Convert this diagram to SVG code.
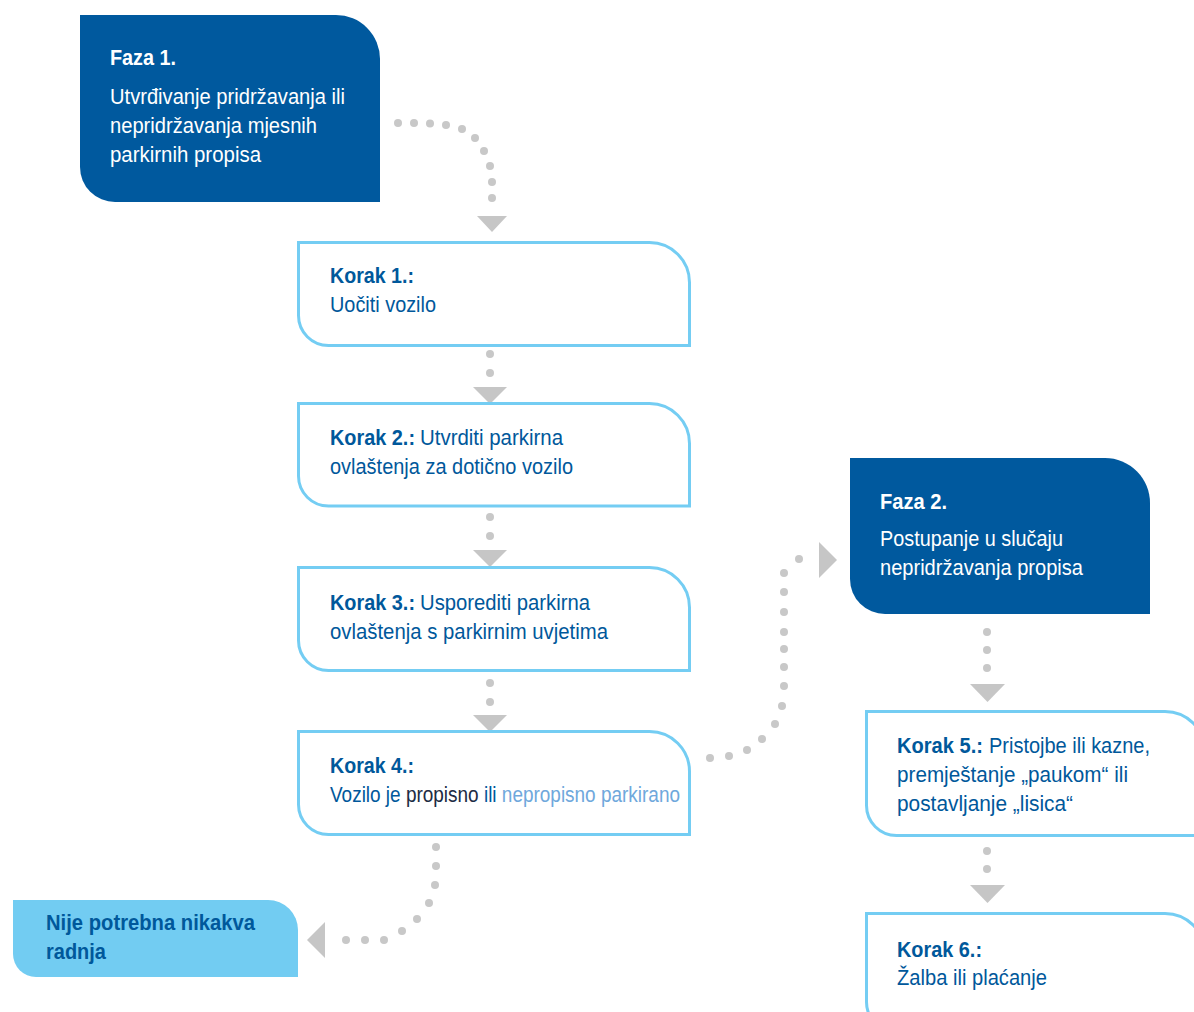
<svg xmlns="http://www.w3.org/2000/svg" width="1194" height="1012" viewBox="0 0 1194 1012">
<style>
text{font-family:"Liberation Sans",Arial,sans-serif;font-size:22px}
.b{font-weight:bold}
.w{fill:#ffffff}
.d{fill:#00589b}
.phase{fill:#00599e}
.step{fill:#ffffff;stroke:#74cdf3;stroke-width:3}
.none{fill:#72ccf2}
.dot{fill:#c8c8c8}
.tri{fill:#c6c6c6}
</style>
<rect width="1194" height="1012" fill="#ffffff"/>
<g id="connectors">
  <g id="c-faza1-korak1">
    <circle class="dot" cx="398" cy="123" r="4"/><circle class="dot" cx="414" cy="123" r="4"/><circle class="dot" cx="430" cy="123.5" r="4"/><circle class="dot" cx="446" cy="125" r="4"/><circle class="dot" cx="462" cy="129" r="4"/><circle class="dot" cx="475" cy="138" r="4"/><circle class="dot" cx="484" cy="151" r="4"/><circle class="dot" cx="490" cy="166" r="4"/><circle class="dot" cx="492" cy="182" r="4"/><circle class="dot" cx="492" cy="198" r="4"/>
    <polygon class="tri" points="477,216 507,216 492,232"/>
  </g>
  <g id="c-korak1-korak2">
    <circle class="dot" cx="490" cy="354" r="4"/><circle class="dot" cx="490" cy="373" r="4"/>
    <polygon class="tri" points="473,387 507,387 490,404"/>
  </g>
  <g id="c-korak2-korak3">
    <circle class="dot" cx="490" cy="517" r="4"/><circle class="dot" cx="490" cy="536" r="4"/>
    <polygon class="tri" points="473,550 507,550 490,567"/>
  </g>
  <g id="c-korak3-korak4">
    <circle class="dot" cx="490" cy="683" r="4"/><circle class="dot" cx="490" cy="702" r="4"/>
    <polygon class="tri" points="473,715 507,715 490,732"/>
  </g>
  <g id="c-korak4-faza2">
    <circle class="dot" cx="710" cy="758" r="4"/><circle class="dot" cx="729" cy="756" r="4"/><circle class="dot" cx="747" cy="750" r="4"/><circle class="dot" cx="762" cy="739" r="4"/><circle class="dot" cx="775" cy="724" r="4"/><circle class="dot" cx="782" cy="706" r="4"/><circle class="dot" cx="784" cy="686" r="4"/><circle class="dot" cx="784" cy="667" r="4"/><circle class="dot" cx="784" cy="649" r="4"/><circle class="dot" cx="784" cy="632" r="4"/><circle class="dot" cx="784" cy="612" r="4"/><circle class="dot" cx="784" cy="592" r="4"/><circle class="dot" cx="784" cy="573" r="4"/><circle class="dot" cx="799" cy="559" r="4"/>
    <polygon class="tri" points="819,542 837,560 819,578"/>
  </g>
  <g id="c-korak4-nije">
    <circle class="dot" cx="436" cy="847" r="4"/><circle class="dot" cx="436" cy="866" r="4"/><circle class="dot" cx="435" cy="885" r="4"/><circle class="dot" cx="429" cy="903" r="4"/><circle class="dot" cx="417" cy="919" r="4"/><circle class="dot" cx="402" cy="931" r="4"/><circle class="dot" cx="384" cy="940" r="4"/><circle class="dot" cx="365" cy="940" r="4"/><circle class="dot" cx="346" cy="940" r="4"/>
    <polygon class="tri" points="325,922 325,958 307,940"/>
  </g>
  <g id="c-faza2-korak5">
    <circle class="dot" cx="987" cy="632" r="4"/><circle class="dot" cx="987" cy="650" r="4"/><circle class="dot" cx="987" cy="668" r="4"/>
    <polygon class="tri" points="970,684 1005,684 987.5,702"/>
  </g>
  <g id="c-korak5-korak6">
    <circle class="dot" cx="987" cy="851" r="4"/><circle class="dot" cx="987" cy="869" r="4"/>
    <polygon class="tri" points="970,885 1005,885 987.5,903"/>
  </g>
</g>
<g id="faza1">
  <path class="phase" d="M80,15 H336 A44,44 0 0 1 380,59 V202 H115 A35,35 0 0 1 80,167 Z"/>
  <text class="b w" x="110" y="65" textLength="66" lengthAdjust="spacingAndGlyphs">Faza 1.</text>
  <text class="w" x="110" y="104" textLength="235" lengthAdjust="spacingAndGlyphs">Utvrđivanje pridržavanja ili</text>
  <text class="w" x="110" y="133" textLength="207" lengthAdjust="spacingAndGlyphs">nepridržavanja mjesnih</text>
  <text class="w" x="110" y="162" textLength="151" lengthAdjust="spacingAndGlyphs">parkirnih propisa</text>
</g>
<g id="korak1">
  <path class="step" d="M298.5,242.5 H649.5 A40,40 0 0 1 689.5,282.5 V345.5 H328.5 A30,30 0 0 1 298.5,315.5 Z"/>
  <text class="b d" x="330" y="283" textLength="84" lengthAdjust="spacingAndGlyphs">Korak 1.:</text>
  <text class="d" x="330" y="312" textLength="106" lengthAdjust="spacingAndGlyphs">Uočiti vozilo</text>
</g>
<g id="korak2">
  <path class="step" d="M298.5,403.5 H649.5 A40,40 0 0 1 689.5,443.5 V506 H328.5 A30,30 0 0 1 298.5,476 Z"/>
  <text class="b d" x="330" y="445" textLength="85" lengthAdjust="spacingAndGlyphs">Korak 2.:</text>
  <text class="d" x="420" y="445" textLength="143" lengthAdjust="spacingAndGlyphs">Utvrditi parkirna</text>
  <text class="d" x="330" y="474" textLength="243" lengthAdjust="spacingAndGlyphs">ovlaštenja za dotično vozilo</text>
</g>
<g id="korak3">
  <path class="step" d="M298.5,567.5 H649.5 A40,40 0 0 1 689.5,607.5 V670.5 H328.5 A30,30 0 0 1 298.5,640.5 Z"/>
  <text class="b d" x="330" y="610" textLength="85" lengthAdjust="spacingAndGlyphs">Korak 3.:</text>
  <text class="d" x="420" y="610" textLength="170" lengthAdjust="spacingAndGlyphs">Usporediti parkirna</text>
  <text class="d" x="330" y="639" textLength="278" lengthAdjust="spacingAndGlyphs">ovlaštenja s parkirnim uvjetima</text>
</g>
<g id="korak4">
  <path class="step" d="M298.5,731.5 H649.5 A40,40 0 0 1 689.5,771.5 V834.5 H328.5 A30,30 0 0 1 298.5,804.5 Z"/>
  <text class="b d" x="330" y="773" textLength="84" lengthAdjust="spacingAndGlyphs">Korak 4.:</text>
  <text class="d" transform="translate(330,802) scale(0.8624,1)">Vozilo je <tspan fill="#1d2c44">propisno</tspan> ili <tspan fill="#6fa8dc">nepropisno parkirano</tspan></text>
</g>
<g id="nije">
  <path class="none" d="M13,900 H268 A30,30 0 0 1 298,930 V977 H36 A23,23 0 0 1 13,954 Z"/>
  <text class="b d" x="46" y="930" textLength="209" lengthAdjust="spacingAndGlyphs">Nije potrebna nikakva</text>
  <text class="b d" x="46" y="959" textLength="60" lengthAdjust="spacingAndGlyphs">radnja</text>
</g>
<g id="faza2">
  <path class="phase" d="M850,458 H1105 A45,45 0 0 1 1150,503 V614 H885 A35,35 0 0 1 850,579 Z"/>
  <text class="b w" x="880" y="509" textLength="67" lengthAdjust="spacingAndGlyphs">Faza 2.</text>
  <text class="w" x="880" y="546" textLength="183" lengthAdjust="spacingAndGlyphs">Postupanje u slučaju</text>
  <text class="w" x="880" y="575" textLength="203" lengthAdjust="spacingAndGlyphs">nepridržavanja propisa</text>
</g>
<g id="korak5">
  <path class="step" d="M866.5,711.5 H1165 A40,40 0 0 1 1205,751.5 V835.5 H896.5 A30,30 0 0 1 866.5,805.5 Z"/>
  <text class="b d" x="897" y="753" textLength="86" lengthAdjust="spacingAndGlyphs">Korak 5.:</text>
  <text class="d" x="989" y="753" textLength="161" lengthAdjust="spacingAndGlyphs">Pristojbe ili kazne,</text>
  <text class="d" x="897" y="782" textLength="231" lengthAdjust="spacingAndGlyphs">premještanje „paukom“ ili</text>
  <text class="d" x="897" y="811" textLength="176" lengthAdjust="spacingAndGlyphs">postavljanje „lisica“</text>
</g>
<g id="korak6">
  <path class="step" d="M866.5,913.5 H1165 A40,40 0 0 1 1205,953.5 V1032 H896.5 A30,30 0 0 1 866.5,1002 Z"/>
  <text class="b d" x="897" y="957" textLength="85" lengthAdjust="spacingAndGlyphs">Korak 6.:</text>
  <text class="d" x="897" y="985" textLength="150" lengthAdjust="spacingAndGlyphs">Žalba ili plaćanje</text>
</g>
</svg>
